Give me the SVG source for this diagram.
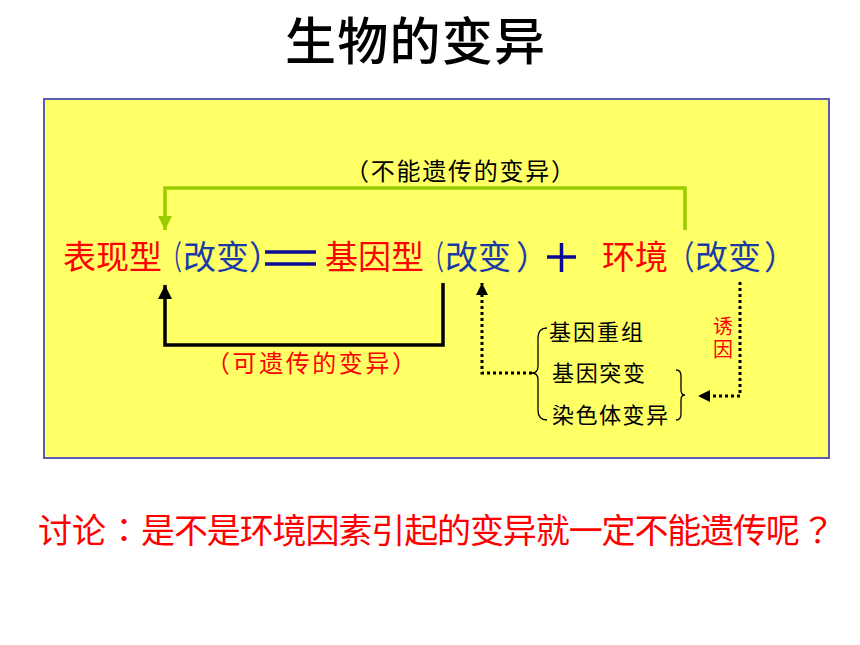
<svg xmlns="http://www.w3.org/2000/svg" width="860" height="645" viewBox="0 0 860 645">
<style>
text{font-family:"Noto Sans CJK SC","Liberation Sans",sans-serif}
.red{fill:#ff0000}
.blue{fill:#1a3aa8}
.blk{fill:#000}
.big{font-size:33px}
.mid{font-size:24px}
.sm{font-size:22px}
.tc{font-family:"Noto Sans CJK TC","Noto Sans CJK SC",sans-serif}
.dot{fill:none;stroke:#000;stroke-width:3;stroke-dasharray:3 3}
.brace{fill:none;stroke:#000;stroke-width:1.3}
</style>
<defs>
<marker id="ag" viewBox="0 0 10 10" refX="10" refY="5" markerWidth="4" markerHeight="4" orient="auto" markerUnits="strokeWidth"><path d="M0,0L10,5L0,10z" fill="#99cc00"/></marker>
<marker id="ab" viewBox="0 0 10 10" refX="10" refY="5" markerWidth="4" markerHeight="4" orient="auto" markerUnits="strokeWidth"><path d="M0,0L10,5L0,10z" fill="#000"/></marker>
</defs>
<rect width="860" height="645" fill="#fff"/>
<text x="285" y="60" style="font-size:51px;font-weight:500" class="blk" textLength="260">生物的变异</text>
<rect id="box" x="44" y="99" width="785" height="359" fill="#ffff66" stroke="#5a5ab4" stroke-width="2"/>
<g id="connectors">
<path d="M685,230V188H165V230" fill="none" stroke="#99cc00" stroke-width="3.5" marker-end="url(#ag)"/>
<path d="M443,283V345H165V285" fill="none" stroke="#000" stroke-width="3.5" marker-end="url(#ab)"/>
<path class="dot" d="M532,373H482V283" marker-end="url(#ab)"/>
<path class="dot" d="M740,282V396H698" marker-end="url(#ab)"/>
<path class="brace" d="M547,328Q538,328 538,338V366Q538,373 532,373Q538,373 538,380V410Q538,420 547,420"/>
<path class="brace" d="M676,370Q681,370 681,376V390Q681,395 685,395Q681,395 681,400V414Q681,420 676,420"/>
<g id="eq" stroke="#0a0a96" stroke-width="3.5"><path d="M265,252H316M265,264H316"/></g>
<g id="plus" stroke="#0a0a96" stroke-width="3.5"><path d="M547,257H576M561.5,243V272"/></g>
</g>
<g id="label-nonheritable"><text x="345" y="180" class="blk mid" textLength="230">（不能遗传的变异）</text></g>
<g id="label-heritable"><text x="206" y="372" class="red mid" textLength="210">（可遗传的变异）</text></g>
<g id="phenotype">
<text x="63" y="269" class="red big">表现型</text>
<text transform="translate(162,269) scale(0.6,1)" class="blue big">（</text>
<text x="183" y="269" class="blue big">改变）</text>
</g>
<g id="genotype">
<text x="325" y="269" class="red big">基因型</text>
<text transform="translate(424,269) scale(0.6,1)" class="blue big">（</text>
<text x="445" y="269" class="blue big">改变<tspan x="516">）</tspan></text>
</g>
<g id="environment">
<text x="602" y="269" class="red big">环境</text>
<text transform="translate(668,269) scale(0.8,1)" class="blue big">（</text>
<text x="695" y="269" class="blue big">改变<tspan x="764">）</tspan></text>
</g>
<g id="recomb"><text x="549" y="340" class="blk sm" textLength="94">基因重组</text></g>
<g id="mutation"><text x="552" y="381" class="blk sm" textLength="93">基因突变</text></g>
<g id="chromo"><text x="552" y="423" class="blk sm" textLength="116">染色体变异</text></g>
<g id="inducer">
<text x="723" y="316" class="red" style="font-size:20px;writing-mode:tb;letter-spacing:3px">诱因</text>
</g>
<text y="543" class="red" style="font-size:34px"><tspan x="38">讨论</tspan><tspan x="107" class="tc">：</tspan><tspan x="141" textLength="659">是不是环境因素引起的变异就一定不能遗传呢</tspan><tspan x="801" class="tc">？</tspan></text>
</svg>
